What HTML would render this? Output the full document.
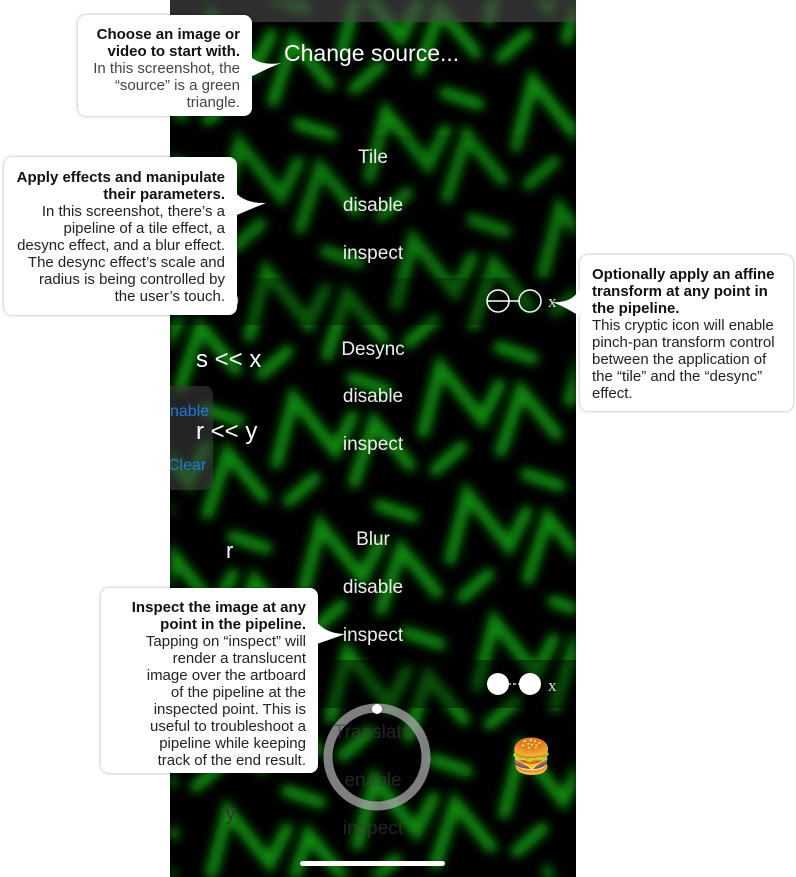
<!DOCTYPE html>
<html><head><meta charset="utf-8"><style>
body{margin:0;width:796px;height:877px;background:#fff;position:relative;overflow:hidden;font-family:"Liberation Sans",Arial,sans-serif}
#phone{position:absolute;left:170px;top:0;width:406px;height:877px;overflow:hidden;background:#000}
.t{position:absolute;color:#fff;font-family:"Liberation Sans",sans-serif;white-space:nowrap}
.c{left:0;width:406px;text-align:center;font-size:19px;color:#eee}
.band{position:absolute;left:0;width:406px}
.call{position:absolute;background:#fff;border-radius:8px;box-shadow:0 0 3px rgba(0,0,0,.35);font-size:15px;line-height:17px;color:#222;padding:0 12px;box-sizing:border-box;white-space:nowrap}
.call b{color:#111}
</style></head><body>
<div id="phone">
<svg width="406" height="877" style="position:absolute;left:0;top:0">
<defs>
<filter id="bl" x="-10%" y="-10%" width="120%" height="120%"><feGaussianBlur stdDeviation="5"/></filter>
<pattern id="p" width="150" height="130" patternUnits="userSpaceOnUse" patternTransform="rotate(-12)">
<g fill="none" stroke="#0a8c0e" stroke-width="12" stroke-linecap="round">
<polyline points="8,85 38,25 68,85 92,55"/>
<polyline points="80,120 112,65 138,115"/>
<polyline points="100,18 130,36"/>
<polyline points="12,125 42,108"/>
</g>
</pattern>
</defs>
<rect width="406" height="877" fill="url(#p)" filter="url(#bl)"/>
</svg>
<div class="band" style="top:0;height:22px;background:rgba(70,70,70,.65)"></div>
<div class="band" style="top:135px;height:143px;background:rgba(0,0,0,.12)"></div>
<div class="band" style="top:278px;height:47px;background:rgba(0,0,0,.35)"></div>
<div class="band" style="top:660px;height:48px;background:rgba(0,0,0,.4)"></div>
<div style="position:absolute;left:0;top:386px;width:43px;height:104px;background:rgba(60,60,60,.6);border-radius:0 8px 8px 0"></div>
<div class="t" style="left:114px;top:40px;font-size:23px">Change source...</div>
<div class="t c" style="top:147px">Tile</div>
<div class="t c" style="top:195px">disable</div>
<div class="t c" style="top:243px">inspect</div>
<div class="t c" style="top:339px">Desync</div>
<div class="t c" style="top:386px">disable</div>
<div class="t c" style="top:434px">inspect</div>
<div class="t c" style="top:529px">Blur</div>
<div class="t c" style="top:577px">disable</div>
<div class="t c" style="top:625px">inspect</div>
<div class="t" style="left:26px;top:346px;font-size:24px">s &lt;&lt; x</div>
<div class="t" style="left:26px;top:418px;font-size:24px">r &lt;&lt; y</div>
<div class="t" style="left:0;top:403px;font-size:16px;color:#1a7ae0">nable</div>
<div class="t" style="left:-2px;top:457px;font-size:16px;color:#1a7ae0">Clear</div>
<div class="t" style="left:56px;top:538px;font-size:22px">r</div>
<div class="t" style="left:55px;top:800px;font-size:22px;color:#333">y</div>
<svg width="406" height="877" style="position:absolute;left:0;top:0">
<path d="M60,290 Q75,300 60,312" fill="none" stroke="#ddd" stroke-width="1.5"/>
<circle cx="328" cy="301" r="11" fill="none" stroke="#fff" stroke-width="1.5"/>
<line x1="317" y1="301" x2="350" y2="301" stroke="#fff" stroke-width="1.5"/>
<circle cx="360" cy="301" r="11" fill="none" stroke="#fff" stroke-width="1.5"/>
<text x="378" y="307" fill="#ddd" font-size="17" font-family="Liberation Serif">x</text>
<circle cx="328" cy="684" r="11" fill="#fff"/>
<line x1="338" y1="684" x2="350" y2="684" stroke="#ccc" stroke-width="1.5" stroke-dasharray="3,2"/>
<circle cx="360" cy="684" r="11" fill="#fff"/>
<text x="378" y="691" fill="#ddd" font-size="17" font-family="Liberation Serif">x</text>
<circle cx="207" cy="757" r="49" fill="none" stroke="rgba(170,170,170,.75)" stroke-width="9"/>
<circle cx="207" cy="709" r="5" fill="#fff"/>
<text x="203" y="738" fill="rgba(60,60,60,.6)" font-size="19" text-anchor="middle">Translate</text>
<text x="203" y="786" fill="rgba(60,60,60,.6)" font-size="19" text-anchor="middle">enable</text>
<text x="203" y="834" fill="rgba(60,60,60,.6)" font-size="19" text-anchor="middle">inspect</text>
<rect x="130" y="861" width="145" height="5" rx="2.5" fill="#fff"/>
</svg>
<div class="t" style="left:340px;top:737px;font-size:34px">🍔</div>
</div>

<div class="call" style="left:78px;top:15px;width:174px;height:101px;text-align:right;padding-top:11px"><b>Choose an image or<br>video to start with.</b><br><span style="color:#444">In this screenshot, the<br>“source” is a green<br>triangle.</span></div>
<svg style="position:absolute;left:245px;top:45px" width="40" height="40"><path d="M0,5 Q10,22 36,18 Q18,25 0,35 Z" fill="#fff"/></svg>

<div class="call" style="left:4px;top:157px;width:233px;height:158px;text-align:right;padding-top:12px"><b>Apply effects and manipulate<br>their parameters.</b><br>In this screenshot, there’s a<br>pipeline of a tile effect, a<br>desync effect, and a blur effect.<br>The desync effect’s scale and<br>radius is being controlled by<br>the user’s touch.</div>
<svg style="position:absolute;left:230px;top:180px" width="40" height="40"><path d="M0,5 Q10,24 36,23 Q18,30 0,38 Z" fill="#fff"/></svg>

<div class="call" style="left:580px;top:255px;width:213px;height:156px;text-align:left;padding-top:11px"><b>Optionally apply an affine<br>transform at any point in<br>the pipeline.</b><br>This cryptic icon will enable<br>pinch-pan transform control<br>between the application of<br>the “tile” and the “desync”<br>effect.</div>
<svg style="position:absolute;left:552px;top:280px" width="35" height="40"><path d="M30,5 Q22,24 0,22 Q16,28 30,38 Z" fill="#fff"/></svg>

<div class="call" style="left:101px;top:588px;width:217px;height:185px;text-align:right;padding-top:11px"><b>Inspect the image at any<br>point in the pipeline.</b><br>Tapping on “inspect” will<br>render a translucent<br>image over the artboard<br>of the pipeline at the<br>inspected point. This is<br>useful to troubleshoot a<br>pipeline while keeping<br>track of the end result.</div>
<svg style="position:absolute;left:311px;top:608px" width="40" height="40"><path d="M0,5 Q10,26 34,26 Q18,32 0,38 Z" fill="#fff"/></svg>
</body></html>
